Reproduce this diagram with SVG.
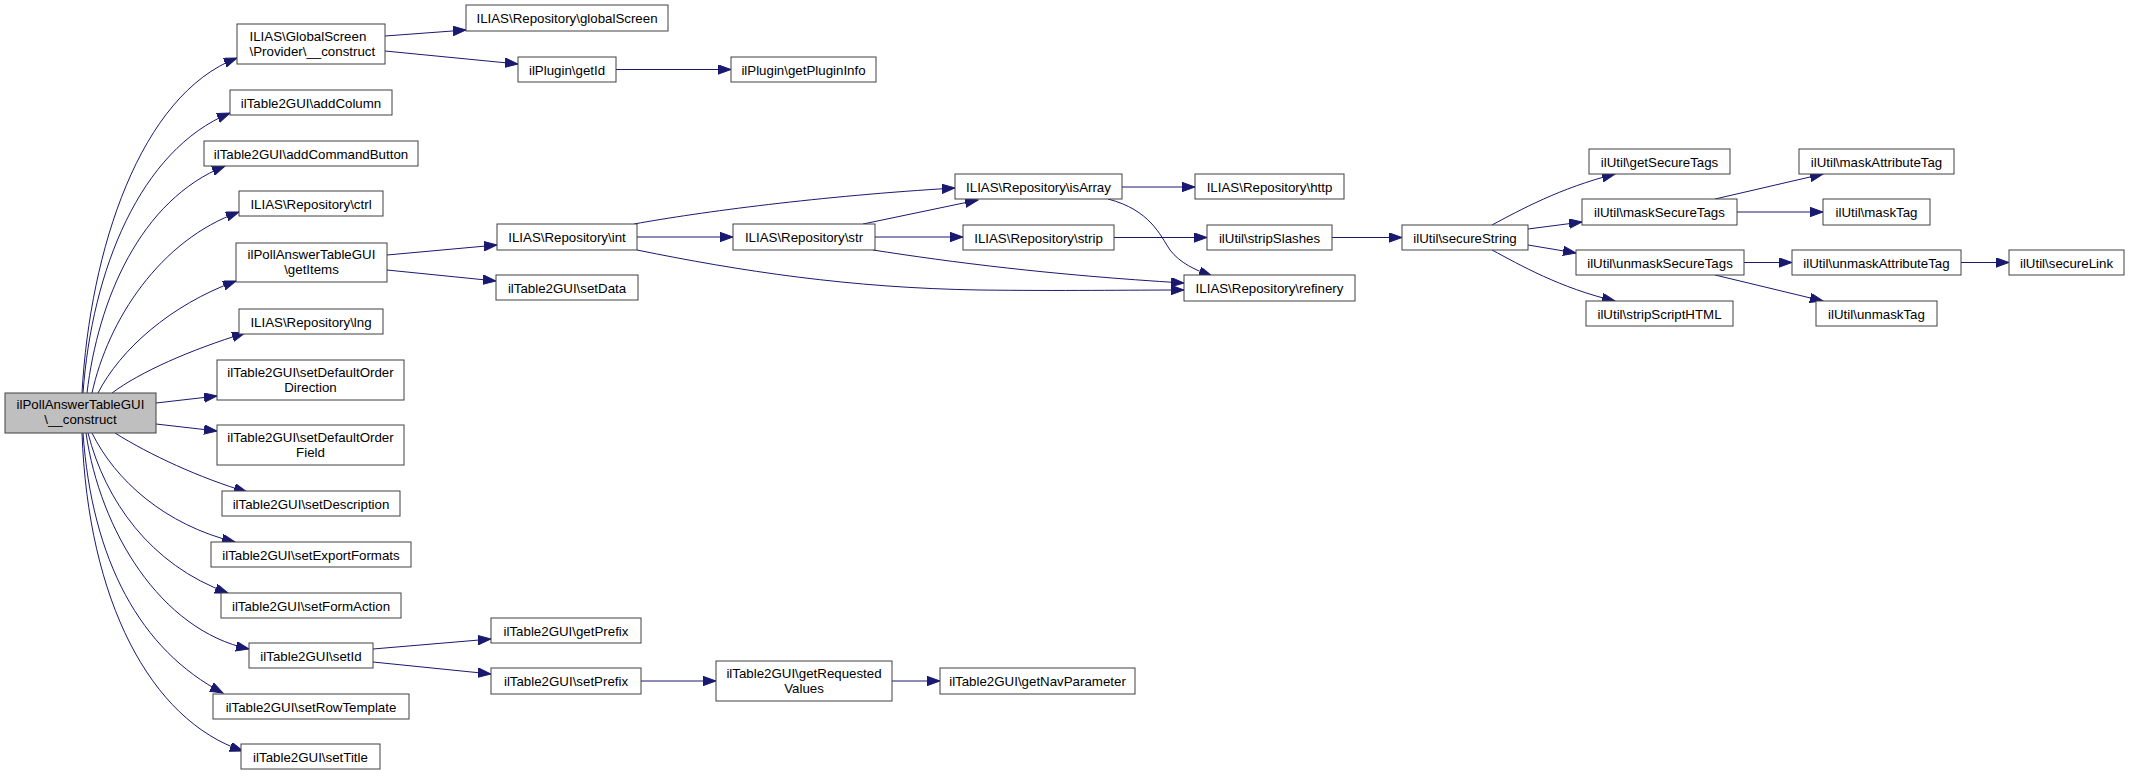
<svg xmlns="http://www.w3.org/2000/svg" width="2129" height="776" viewBox="0 0 2129 776">
<style>
.n rect{fill:#ffffff;stroke:#404040;stroke-width:1}
.n.main rect{fill:#bfbfbf}
.n text{font-family:"Liberation Sans",Arial,sans-serif;font-size:13.3px;fill:#000;text-anchor:middle}
.e path{fill:none;stroke:#191970;stroke-width:1;marker-end:url(#ah)}
</style>
<defs>
<marker id="ah" markerUnits="userSpaceOnUse" markerWidth="14" markerHeight="10" refX="13" refY="4.7" orient="auto">
<path d="M0,0 L13,4.7 L0,9.4 z" fill="#191970" stroke="#191970" stroke-width="1"/>
</marker>
</defs>
<rect width="2129" height="776" fill="#ffffff"/>
<g id="edges" class="e">
<path d="M82,393 C90,250 140,95 237,58"/>
<path d="M83,393 C92,270 140,150 230,113"/>
<path d="M87,393 C98,300 140,200 225,166"/>
<path d="M92,393 C108,320 160,240 239,212"/>
<path d="M98,393 C120,350 170,305 236,281"/>
<path d="M112,393 C140,372 190,350 245,333"/>
<path d="M156,403 L217,396"/>
<path d="M156,424 L217,431"/>
<path d="M115,433 C150,455 200,478 247,492"/>
<path d="M92,433 C115,480 165,525 235,542"/>
<path d="M88,433 C105,500 150,565 228,593"/>
<path d="M86,433 C100,530 160,630 249,649"/>
<path d="M83,433 C92,560 140,650 223,693"/>
<path d="M82,433 C88,600 150,720 243,751"/>
<path d="M385,36 L466,30"/>
<path d="M385,51 L518,64"/>
<path d="M616,69.5 L731,69.5"/>
<path d="M387,255 L497,245"/>
<path d="M387,270 L496,281"/>
<path d="M637,237 L733,237"/>
<path d="M634,224 C700,212 820,196 955,188"/>
<path d="M637,250 C740,271 850,288 980,290 C1060,291 1130,290 1184,290"/>
<path d="M863,224 L978,200"/>
<path d="M875,237 L963,237"/>
<path d="M873,250 C950,262 1050,275 1184,283"/>
<path d="M1122,187 L1195,187"/>
<path d="M1108,199 C1150,210 1160,235 1170,250 C1180,263 1195,270 1212,276"/>
<path d="M1114,237.5 L1207,237.5"/>
<path d="M1332,237.5 L1402,237.5"/>
<path d="M1492,225 C1520,210 1560,188 1615,174"/>
<path d="M1528,229 L1582,222"/>
<path d="M1528,245 L1576,253"/>
<path d="M1492,250 C1520,265 1560,288 1615,301"/>
<path d="M1715,199 L1823,174"/>
<path d="M1737,212 L1823,212"/>
<path d="M1744,262.5 L1792,262.5"/>
<path d="M1715,275 L1823,301"/>
<path d="M1961,262.5 L2009,262.5"/>
<path d="M373,649 L491,639"/>
<path d="M373,662 L491,674"/>
<path d="M641,681 L716,681"/>
<path d="M892,681 L940,681"/>
</g>
<g id="main" class="n main"><rect x="5" y="393" width="151" height="40"/><text x="80.5" y="409">ilPollAnswerTableGUI</text><text x="80.5" y="424">\__construct</text></g>
<g id="provider" class="n"><rect x="237" y="24" width="148" height="40"/><text x="249.5" y="40.5" style="text-anchor:start">ILIAS\GlobalScreen</text><text x="249.5" y="55.5" style="text-anchor:start">\Provider\__construct</text></g>
<g id="addColumn" class="n"><rect x="230" y="90" width="162" height="25"/><text x="311" y="107.5">ilTable2GUI\addColumn</text></g>
<g id="addCommandButton" class="n"><rect x="204" y="141" width="214" height="25"/><text x="311" y="158.5">ilTable2GUI\addCommandButton</text></g>
<g id="ctrl" class="n"><rect x="239" y="191" width="144" height="25"/><text x="311" y="208.5">ILIAS\Repository\ctrl</text></g>
<g id="getItems" class="n"><rect x="236" y="243" width="151" height="39"/><text x="311.5" y="258.5">ilPollAnswerTableGUI</text><text x="311.5" y="273.5">\getItems</text></g>
<g id="lng" class="n"><rect x="239" y="309" width="144" height="25"/><text x="311" y="326.5">ILIAS\Repository\lng</text></g>
<g id="setDefaultOrderDirection" class="n"><rect x="217" y="360" width="187" height="40"/><text x="310.5" y="376.5">ilTable2GUI\setDefaultOrder</text><text x="310.5" y="391.5">Direction</text></g>
<g id="setDefaultOrderField" class="n"><rect x="217" y="425" width="187" height="40"/><text x="310.5" y="441.5">ilTable2GUI\setDefaultOrder</text><text x="310.5" y="456.5">Field</text></g>
<g id="setDescription" class="n"><rect x="222" y="491" width="178" height="25"/><text x="311" y="508.5">ilTable2GUI\setDescription</text></g>
<g id="setExportFormats" class="n"><rect x="211" y="542" width="200" height="25"/><text x="311" y="559.5">ilTable2GUI\setExportFormats</text></g>
<g id="setFormAction" class="n"><rect x="221" y="593" width="180" height="25"/><text x="311" y="610.5">ilTable2GUI\setFormAction</text></g>
<g id="setId" class="n"><rect x="249" y="643" width="124" height="25"/><text x="311" y="660.5">ilTable2GUI\setId</text></g>
<g id="setRowTemplate" class="n"><rect x="213" y="694" width="196" height="25"/><text x="311" y="711.5">ilTable2GUI\setRowTemplate</text></g>
<g id="setTitle" class="n"><rect x="241" y="744" width="139" height="25"/><text x="310.5" y="761.5">ilTable2GUI\setTitle</text></g>
<g id="globalScreen" class="n"><rect x="466" y="5" width="202" height="26"/><text x="567" y="22.5">ILIAS\Repository\globalScreen</text></g>
<g id="getId" class="n"><rect x="518" y="57" width="98" height="25"/><text x="567" y="74.5">ilPlugin\getId</text></g>
<g id="getPluginInfo" class="n"><rect x="731" y="57" width="145" height="25"/><text x="803.5" y="74.5">ilPlugin\getPluginInfo</text></g>
<g id="int" class="n"><rect x="497" y="224" width="140" height="26"/><text x="567" y="241.5">ILIAS\Repository\int</text></g>
<g id="setData" class="n"><rect x="496" y="275" width="142" height="25"/><text x="567" y="292.5">ilTable2GUI\setData</text></g>
<g id="str" class="n"><rect x="733" y="224" width="142" height="26"/><text x="804" y="241.5">ILIAS\Repository\str</text></g>
<g id="getPrefix" class="n"><rect x="491" y="618" width="150" height="25"/><text x="566" y="635.5">ilTable2GUI\getPrefix</text></g>
<g id="setPrefix" class="n"><rect x="491" y="668" width="150" height="26"/><text x="566" y="685.5">ilTable2GUI\setPrefix</text></g>
<g id="getRequestedValues" class="n"><rect x="716" y="661" width="176" height="40"/><text x="804" y="677.5">ilTable2GUI\getRequested</text><text x="804" y="692.5">Values</text></g>
<g id="getNavParameter" class="n"><rect x="940" y="668" width="195" height="26"/><text x="1037.5" y="685.5">ilTable2GUI\getNavParameter</text></g>
<g id="isArray" class="n"><rect x="955" y="174" width="167" height="25"/><text x="1038.5" y="191.5">ILIAS\Repository\isArray</text></g>
<g id="http" class="n"><rect x="1195" y="174" width="149" height="25"/><text x="1269.5" y="191.5">ILIAS\Repository\http</text></g>
<g id="strip" class="n"><rect x="963" y="225" width="151" height="25"/><text x="1038.5" y="242.5">ILIAS\Repository\strip</text></g>
<g id="stripSlashes" class="n"><rect x="1207" y="225" width="125" height="25"/><text x="1269.5" y="242.5">ilUtil\stripSlashes</text></g>
<g id="refinery" class="n"><rect x="1184" y="275" width="171" height="26"/><text x="1269.5" y="292.5">ILIAS\Repository\refinery</text></g>
<g id="secureString" class="n"><rect x="1402" y="225" width="126" height="25"/><text x="1465" y="242.5">ilUtil\secureString</text></g>
<g id="getSecureTags" class="n"><rect x="1589" y="149" width="141" height="25"/><text x="1659.5" y="166.5">ilUtil\getSecureTags</text></g>
<g id="maskSecureTags" class="n"><rect x="1582" y="199" width="155" height="26"/><text x="1659.5" y="216.5">ilUtil\maskSecureTags</text></g>
<g id="unmaskSecureTags" class="n"><rect x="1576" y="250" width="168" height="25"/><text x="1660" y="267.5">ilUtil\unmaskSecureTags</text></g>
<g id="stripScriptHTML" class="n"><rect x="1586" y="301" width="147" height="25"/><text x="1659.5" y="318.5">ilUtil\stripScriptHTML</text></g>
<g id="maskAttributeTag" class="n"><rect x="1799" y="149" width="155" height="25"/><text x="1876.5" y="166.5">ilUtil\maskAttributeTag</text></g>
<g id="maskTag" class="n"><rect x="1823" y="199" width="107" height="26"/><text x="1876.5" y="216.5">ilUtil\maskTag</text></g>
<g id="unmaskAttributeTag" class="n"><rect x="1792" y="250" width="169" height="25"/><text x="1876.5" y="267.5">ilUtil\unmaskAttributeTag</text></g>
<g id="secureLink" class="n"><rect x="2009" y="250" width="115" height="25"/><text x="2066.5" y="267.5">ilUtil\secureLink</text></g>
<g id="unmaskTag" class="n"><rect x="1816" y="301" width="121" height="25"/><text x="1876.5" y="318.5">ilUtil\unmaskTag</text></g>
</svg>
